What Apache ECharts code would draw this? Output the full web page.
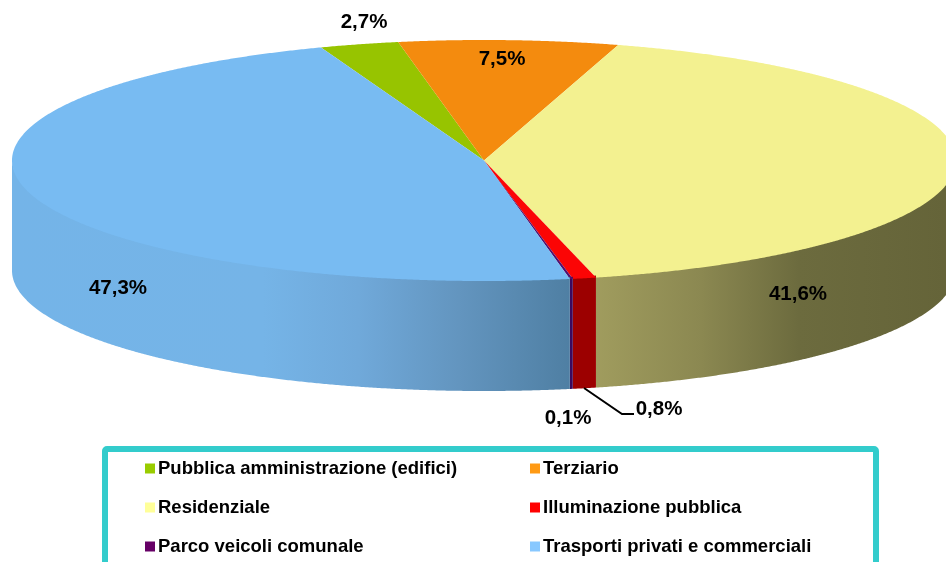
<!DOCTYPE html>
<html>
<head>
<meta charset="utf-8">
<style>
  html, body { margin: 0; padding: 0; background: #fff; }
  #chart { width: 946px; height: 562px; }
</style>
<script src="https://cdn.jsdelivr.net/npm/echarts@6/dist/echarts.min.js"></script>
</head>
<body>
<div id="chart"></div>
<script>
const categories = ['Pubblica amministrazione (edifici)', 'Terziario', 'Residenziale', 'Illuminazione pubblica', 'Parco veicoli comunale', 'Trasporti privati e commerciali']
const values = [2.7, 7.5, 41.6, 0.8, 0.1, 47.3]
const valueLabels = ['2,7%', '7,5%', '41,6%', '0,8%', '0,1%', '47,3%']

const topColors = ['#97c400', '#f48b0e', '#f3f190', '#fb0505', '#52106e', '#78bbf2']
const legendColors = ['#99cc00', '#ff9a14', '#ffff99', '#ff0000', '#660066', '#88c8ff']

const FONT = '"Liberation Sans", Arial, sans-serif'
const CX = 484, CY = 160.5, RX = 472, RY = 120.5, DEPTH = 110
const START_ANGLE = -20.2
const total = values.reduce((a, b) => a + b, 0)

const pt = (deg, dy) => {
  const r = deg * Math.PI / 180
  return [CX + RX * Math.sin(r), CY - RY * Math.cos(r) + dy]
}

// side wall shading, left to right like the 3d effect of the original
const wallFill = i => {
  if (i === 2) {
    return new echarts.graphic.LinearGradient(596, 0, 946, 0, [
      { offset: 0, color: '#a09c5e' },
      { offset: 0.3, color: '#8b8851' },
      { offset: 0.58, color: '#6c6b3e' },
      { offset: 1, color: '#656439' }
    ], true)
  }
  if (i === 5) {
    return new echarts.graphic.LinearGradient(12, 0, 570, 0, [
      { offset: 0, color: '#74b4e8' },
      { offset: 0.45, color: '#75b4e7' },
      { offset: 0.62, color: '#70a9da' },
      { offset: 0.8, color: '#6395bf' },
      { offset: 1, color: '#4f7fa3' }
    ], true)
  }
  return i === 3 ? '#9c0000' : '#3a0a5e'
}

const renderSlice = (params, api) => {
  const i = params.seriesIndex
  const before = values.slice(0, i).reduce((a, b) => a + b, 0)
  const a0 = START_ANGLE + before / total * 360
  const a1 = a0 + api.value(0) / total * 360
  const children = []

  // wall: only the front half of the rim is visible
  const w0 = Math.max(a0, 90), w1 = Math.min(a1, 270)
  if (w1 > w0) {
    const front = [], back = []
    for (let a = w0; a < w1; a += 0.25) {
      front.push(pt(a, -2))
      back.push(pt(a, DEPTH))
    }
    front.push(pt(w1, -2))
    back.push(pt(w1, DEPTH))
    children.push({
      type: 'polygon',
      shape: { points: front.concat(back.reverse()) },
      style: { fill: wallFill(i) }
    })
  }

  // top face
  const points = [[CX, CY]]
  for (let a = a0; a < a1; a += 0.25) points.push(pt(a, 0))
  points.push(pt(a1, 0))
  children.push({
    type: 'polygon',
    shape: { points },
    style: { fill: topColors[i] }
  })
  return { type: 'group', children }
}

const labelAt = [[364, 22], [502, 59], [798, 294], [659, 409], [568, 418], [118, 288]]

const legendBase = {
  orient: 'vertical',
  icon: 'rect',
  itemWidth: 10,
  itemHeight: 10,
  itemGap: 20,
  selectedMode: false,
  padding: 0,
  textStyle: { fontFamily: FONT, fontWeight: 'bold', fontSize: 18.5, color: '#000', padding: [0, 0, 0, -2] }
}
const legendItem = i => ({ name: categories[i], itemStyle: { color: legendColors[i] } })

const option = {
  backgroundColor: '#fff',
  animation: false,
  legend: [
    { ...legendBase, left: 145, top: 459, data: [0, 2, 4].map(legendItem) },
    { ...legendBase, left: 530, top: 459, data: [1, 3, 5].map(legendItem) }
  ],
  graphic: [
    {
      type: 'rect',
      shape: { x: 105, y: 449, width: 771, height: 140, r: 2 },
      style: { fill: 'none', stroke: '#33cccc', lineWidth: 6 },
      silent: true
    },
    {
      type: 'polyline',
      shape: { points: [[584, 388], [622, 414], [634, 414]] },
      style: { fill: 'none', stroke: '#000', lineWidth: 2 },
      silent: true,
      z: 5
    },
    ...valueLabels.map((text, i) => ({
      type: 'text',
      x: labelAt[i][0],
      y: labelAt[i][1],
      silent: true,
      z: 5,
      style: { text, fontFamily: FONT, fontWeight: 'bold', fontSize: 20.5, fill: '#000', align: 'center', verticalAlign: 'middle' }
    }))
  ],
  series: categories.map((name, i) => ({
    type: 'custom',
    name,
    coordinateSystem: 'none',
    silent: true,
    renderItem: renderSlice,
    data: [[values[i]]],
    itemStyle: { color: legendColors[i] }
  }))
}

const chart = echarts.init(document.getElementById('chart'), null, { renderer: 'canvas' })
chart.setOption(option)
</script>
</body>
</html>
